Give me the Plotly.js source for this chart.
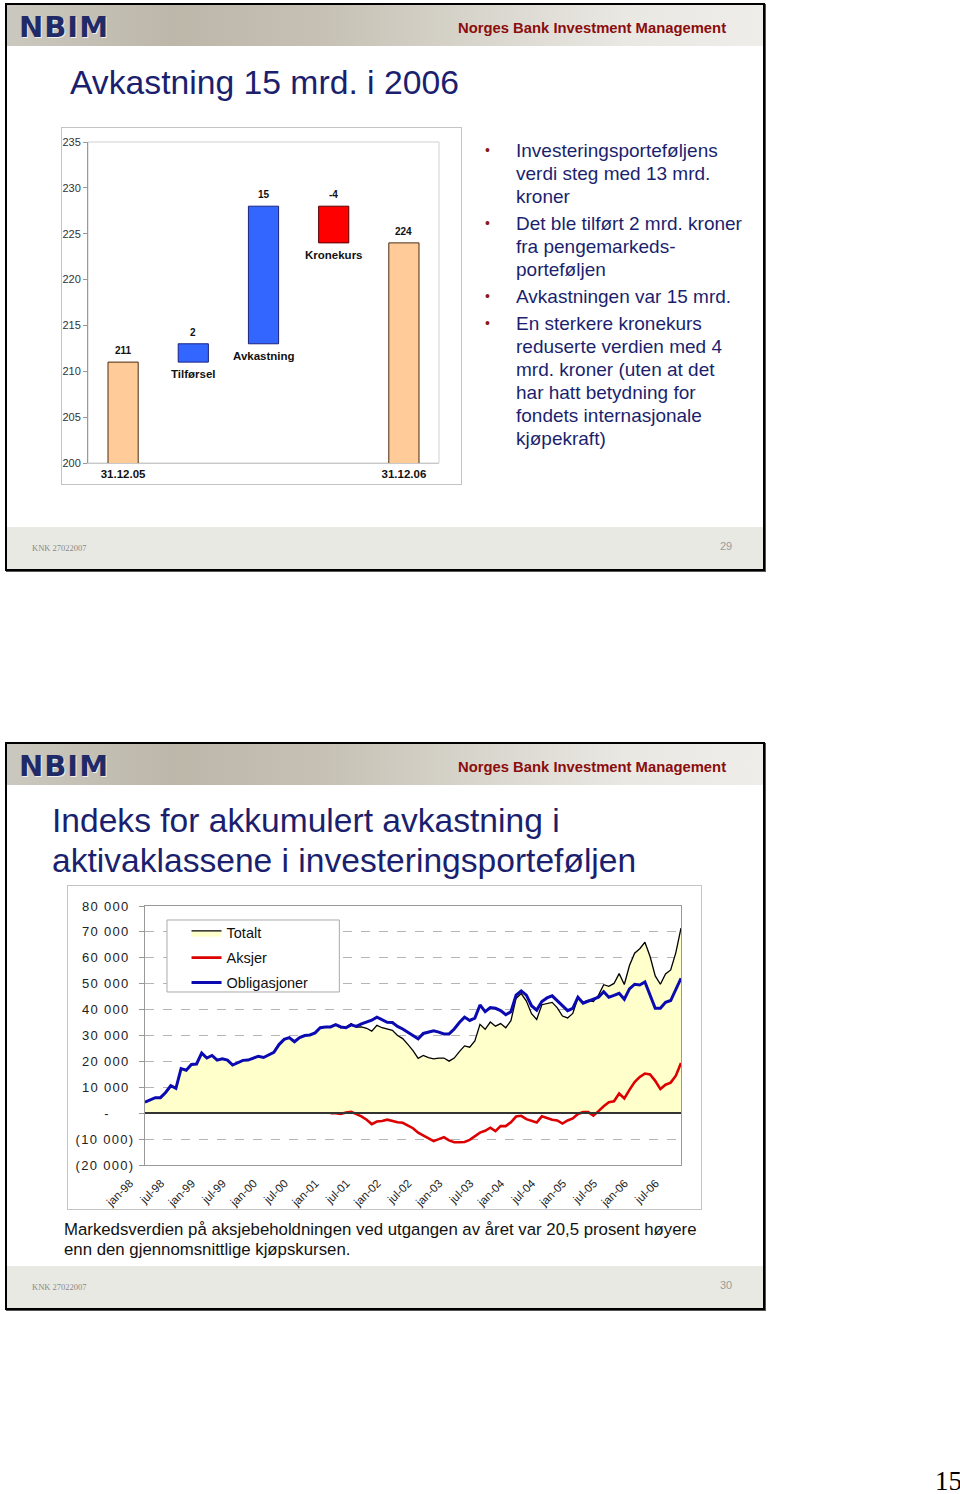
<!DOCTYPE html>
<html><head><meta charset="utf-8">
<script src="https://cdn.plot.ly/plotly-3.0.1.min.js"></script>
<style>
body{margin:0;background:#fff;width:960px;height:1494px;position:relative;overflow:hidden;font-family:"Liberation Sans",Arial,sans-serif;}
.slide{position:absolute;left:5px;width:756px;height:564px;border:2px solid #000;box-shadow:1px 1px 0 #555;background:#fff;}
.hdr{position:absolute;left:0;top:0;width:756px;height:41px;background:linear-gradient(90deg,#cbc8bf 0%,#bcb7a9 22%,#c6c1b4 42%,#d8d5cc 62%,#e9e8e3 82%,#eeede9 100%);}
.logo{position:absolute;left:12px;top:5px;font-family:"DejaVu Sans",sans-serif;font-weight:bold;font-size:29px;letter-spacing:1px;color:#1f2a66;text-shadow:1px 1px 0 #eee;}
.nbm{position:absolute;left:451px;top:15px;font-weight:bold;font-size:14.8px;color:#8b0d0d;white-space:nowrap;}
.ftr{position:absolute;left:0;top:522px;width:756px;height:42px;background:#e9e9e4;}
.knk{position:absolute;left:25px;top:16px;font-family:"Liberation Serif",serif;font-size:8.5px;color:#8a8a8a;}
.pg{position:absolute;left:713px;top:13px;font-size:11px;color:#9a9a9a;}
.title{position:absolute;color:#1b1f6e;font-size:34px;line-height:40px;white-space:nowrap;}
.bul{position:absolute;left:485px;color:#1b1f6e;font-size:19px;line-height:23px;white-space:nowrap;}
.bul .dot{position:absolute;left:0;top:0;color:#8b1a1a;font-size:14px;}
.bul .tx{position:absolute;left:31px;top:0;}
.cap{position:absolute;left:64px;top:1220px;font-size:16.8px;line-height:20px;color:#111;white-space:nowrap;}
.pnum{position:absolute;left:935px;top:1466px;font-family:"Liberation Serif",serif;font-size:27px;color:#000;}
#chart1{position:absolute;left:61px;top:127px;width:399px;height:356px;border:1px solid #c4c4c4;}
#chart2{position:absolute;left:67px;top:885px;width:633px;height:323px;border:1px solid #c4c4c4;}
#chart2 .ytick text{letter-spacing:1.3px;}
</style>
</head><body>
<div class="slide" style="top:3px;">
  <div class="hdr"><div class="logo">NBIM</div><div class="nbm">Norges Bank Investment Management</div></div>
  <div class="ftr"><div class="knk">KNK 27022007</div><div class="pg">29</div></div>
</div>
<div class="title" style="left:70px;top:62px;font-size:33.7px;">Avkastning 15 mrd. i 2006</div>
<div class="bul" style="top:139px;"><span class="dot">•</span><div class="tx">Investeringsporteføljens<br>verdi steg med 13 mrd.<br>kroner</div></div>
<div class="bul" style="top:212px;"><span class="dot">•</span><div class="tx">Det ble tilført 2 mrd. kroner<br>fra pengemarkeds-<br>porteføljen</div></div>
<div class="bul" style="top:285px;"><span class="dot">•</span><div class="tx">Avkastningen var 15 mrd.</div></div>
<div class="bul" style="top:312px;"><span class="dot">•</span><div class="tx">En sterkere kronekurs<br>reduserte verdien med 4<br>mrd. kroner (uten at det<br>har hatt betydning for<br>fondets internasjonale<br>kjøpekraft)</div></div>

<div class="slide" style="top:742px;">
  <div class="hdr"><div class="logo">NBIM</div><div class="nbm">Norges Bank Investment Management</div></div>
  <div class="ftr"><div class="knk">KNK 27022007</div><div class="pg">30</div></div>
</div>
<div class="title" style="left:52px;top:801px;font-size:33.6px;">Indeks for akkumulert avkastning i<br>aktivaklassene i investeringsporteføljen</div>
<div class="cap">Markedsverdien på aksjebeholdningen ved utgangen av året var 20,5 prosent høyere<br>enn den gjennomsnittlige kjøpskursen.</div>
<div class="pnum">15</div>

<div id="chart1"></div>
<div id="chart2"></div>

<script>
// ---- Chart 1 data (waterfall, mrd. kroner) ----
const wfCategories = ['31.12.05', 'Tilførsel', 'Avkastning', 'Kronekurs', '31.12.06'];
const wfValues = [211, 2, 15, -4, 224];
const wfMeasure = ['absolute', 'relative', 'relative', 'relative', 'total'];
const wfTickText = ['31.12.05', '', '', '', '31.12.06'];
const wfValueLabels = ['211', '2', '15', '-4', '224'];
const wfNameLabels = ['', 'Tilførsel', 'Avkastning', 'Kronekurs', ''];

// ---- Chart 2 data (monthly, jan-98 ...) ----
const obligasjoner = [4300,5300,6000,6000,8000,10600,9600,17200,16600,18800,
19000,23200,21300,22300,20500,21000,20500,18600,19600,20400,
20500,21300,22000,21500,22500,23500,26500,28500,29200,27600,
29200,30000,30200,31000,33000,33300,33300,34200,33300,33000,
34100,33500,34500,35300,35900,37100,36000,35100,35000,33500,
32500,31300,30000,28700,30800,31300,31800,31300,30600,30600,
32500,35000,37100,35800,36700,41800,39200,40800,40500,39600,
38000,39200,45600,47200,45600,41500,39800,43100,44500,45300,
43500,41500,39600,40500,44800,42500,43200,44000,44800,46900,
44800,45500,46300,44000,48000,49800,49500,50700,45500,40500,
40500,42800,43500,47500,52100];
const aksjer = [null,null,null,null,null,null,null,null,null,null,
null,null,null,null,null,null,null,null,null,null,
null,null,null,null,null,null,null,null,null,null,
null,null,null,null,null,null,
0,0,-300,300,500,-300,-1200,-2500,-4200,-3200,
-3000,-2500,-3000,-3500,-3700,-4700,-5800,-7500,-8500,-9800,
-10800,-10000,-9300,-10500,-11200,-11200,-11100,-10300,-8800,-7500,
-6800,-5600,-6900,-5000,-5000,-3500,-1300,-1000,-2300,-3100,
-3600,-1200,-2000,-2500,-2800,-4000,-2800,-2000,-300,400,
400,-900,800,2700,4200,4600,7600,5700,9000,12000,
14000,15300,15000,12500,9300,11000,11800,14500,19400];
const totalt = [4300,5300,6000,6000,8000,10600,9600,17200,16600,18800,
19000,23200,21300,22300,20500,21000,20500,18600,19600,20400,
20500,21300,22000,21500,22500,23500,26500,28500,29200,27600,
29200,30000,30200,31000,33000,33300,33300,34200,33000,33300,
34600,33200,33300,32800,31700,33900,33000,32600,32000,30000,
28800,26600,24200,21200,22300,21500,21000,21300,21300,20100,
21300,23800,26000,25500,27900,34300,32400,35200,33600,34600,
33000,35700,44300,46200,43300,38400,36200,41900,42500,42800,
40700,37500,36800,38500,44500,42900,43600,43100,45600,49600,
49000,50100,53900,49700,57000,61800,63500,66000,60500,53000,
49800,53800,55300,62000,71500];
const xTickLabels = ['jan-98','jul-98','jan-99','jul-99','jan-00','jul-00','jan-01','jul-01','jan-02',
  'jul-02','jan-03','jul-03','jan-04','jul-04','jan-05','jul-05','jan-06','jul-06'];
const yTickVals = [-20000,-10000,0,10000,20000,30000,40000,50000,60000,70000,80000];
const yTickLabels = ['(20 000)','(10 000)','-\u00a0\u00a0\u00a0\u00a0\u00a0','10 000\u00a0','20 000\u00a0','30 000\u00a0',
  '40 000\u00a0','50 000\u00a0','60 000\u00a0','70 000\u00a0','80 000\u00a0'];
const seriesNames = ['Totalt', 'Aksjer', 'Obligasjoner'];

const monthNames = ['jan','feb','mar','apr','mai','jun','jul','aug','sep','okt','nov','des'];
const months = obligasjoner.map((_, i) => monthNames[i % 12] + '-' + String(98 + Math.floor(i / 12)).slice(-2));

// ---- Chart 1 ----
let run = 0;
const tops = [], bottoms = [];
wfValues.forEach((v, i) => {
  if (wfMeasure[i] === 'absolute') { run = v; tops.push(v); bottoms.push(0); }
  else if (wfMeasure[i] === 'total') { tops.push(run); bottoms.push(0); }
  else { const s = run; run += v; tops.push(Math.max(s, run)); bottoms.push(Math.min(s, run)); }
});
const ann1 = [];
wfCategories.forEach((c, i) => {
  ann1.push({x: c, y: tops[i], text: wfValueLabels[i], showarrow: false, yanchor: 'bottom', yshift: 4,
    font: {size: 10, weight: 'bold', color: '#111'}});
  if (wfNameLabels[i]) ann1.push({x: c, y: bottoms[i], text: wfNameLabels[i], showarrow: false, yanchor: 'top', yshift: -4,
    font: {size: 11.5, weight: 'bold', color: '#111'}});
});
Plotly.newPlot('chart1', [{
  type: 'waterfall', x: wfCategories, y: wfValues, measure: wfMeasure,
  connector: {visible: false},
  totals: {marker: {color: '#FFCC99', line: {color: '#4a2a10', width: 1}}},
  increasing: {marker: {color: '#3366FF', line: {color: '#1a237e', width: 1}}},
  decreasing: {marker: {color: '#FF0000', line: {color: '#5a0000', width: 1}}},
  textinfo: 'none', hoverinfo: 'skip'
}], {
  width: 399, height: 356, margin: {l: 26, r: 22, t: 14, b: 21},
  paper_bgcolor: '#fff', plot_bgcolor: '#fff', showlegend: false, waterfallgap: 0.57,
  font: {family: '"Liberation Sans", Arial, sans-serif'},
  xaxis: {type: 'category', tickvals: wfCategories, ticktext: wfTickText, ticks: '', showgrid: false,
    tickfont: {size: 11.5, weight: 'bold', color: '#111'}, showline: true, linecolor: '#c8c8c8'},
  yaxis: {range: [200, 235], tick0: 200, dtick: 5, ticks: 'outside', ticklen: 4, tickcolor: '#999',
    showline: true, linecolor: '#999', showgrid: false, zeroline: false, tickfont: {size: 11, color: '#333'}},
  shapes: [{type: 'rect', xref: 'paper', yref: 'paper', x0: 0, x1: 1, y0: 0, y1: 1, line: {color: '#d0d0d0', width: 1}, layer: 'below'}],
  annotations: ann1
}, {staticPlot: true, displayModeBar: false});

// ---- Chart 2 ----
Plotly.newPlot('chart2', [
  {x: months, y: totalt, name: seriesNames[0], mode: 'lines', fill: 'tozeroy', fillcolor: '#FFFFCC',
   line: {color: '#000', width: 1.3}, legendgroup: 'a'},
  {x: months, y: aksjer, name: seriesNames[1], mode: 'lines', line: {color: '#DD0000', width: 2.6}, legendgroup: 'b'},
  {x: months, y: obligasjoner, name: seriesNames[2], mode: 'lines', line: {color: '#0A0AB0', width: 3}, legendgroup: 'c'}
], {
  width: 633, height: 323, margin: {l: 77, r: 20, t: 20, b: 44},
  paper_bgcolor: '#fff', plot_bgcolor: '#fff',
  font: {family: '"Liberation Sans", Arial, sans-serif', color: '#222'},
  xaxis: {type: 'category', range: [0, months.length - 1], tickvals: xTickLabels, ticktext: xTickLabels,
    tickangle: -45, tickfont: {size: 11.5, color: '#222'}, ticks: '', showgrid: false,
    ticklabelshift: -15, ticklabelstandoff: 6,
    showline: true, linecolor: '#999', mirror: true},
  yaxis: {range: [-20000, 80000], tickvals: yTickVals, ticktext: yTickLabels, tickfont: {size: 13, color: '#222'},
    ticks: 'outside', ticklen: 5, tickcolor: '#999', ticklabelstandoff: 2,
    showgrid: true, gridcolor: '#b5b5b5', griddash: 'dash', gridwidth: 1,
    zeroline: true, zerolinecolor: '#333', zerolinewidth: 2, zerolinelayer: 'above traces',
    showline: true, linecolor: '#999', mirror: true},
  showlegend: true,
  legend: {x: 0.0775, y: 0.958, xanchor: 'left', yanchor: 'top', bgcolor: 'rgba(0,0,0,0)', borderwidth: 0,
    font: {size: 14.5, color: '#111'}, traceorder: 'grouped', tracegroupgap: 3},
  shapes: [{type: 'rect', xref: 'paper', yref: 'paper', x0: 0.041, x1: 0.3626, y0: 0.668, y1: 0.946,
    fillcolor: '#fff', line: {color: '#aaa', width: 1}, layer: 'above'}]
}, {staticPlot: true, displayModeBar: false});
</script>
</body></html>
